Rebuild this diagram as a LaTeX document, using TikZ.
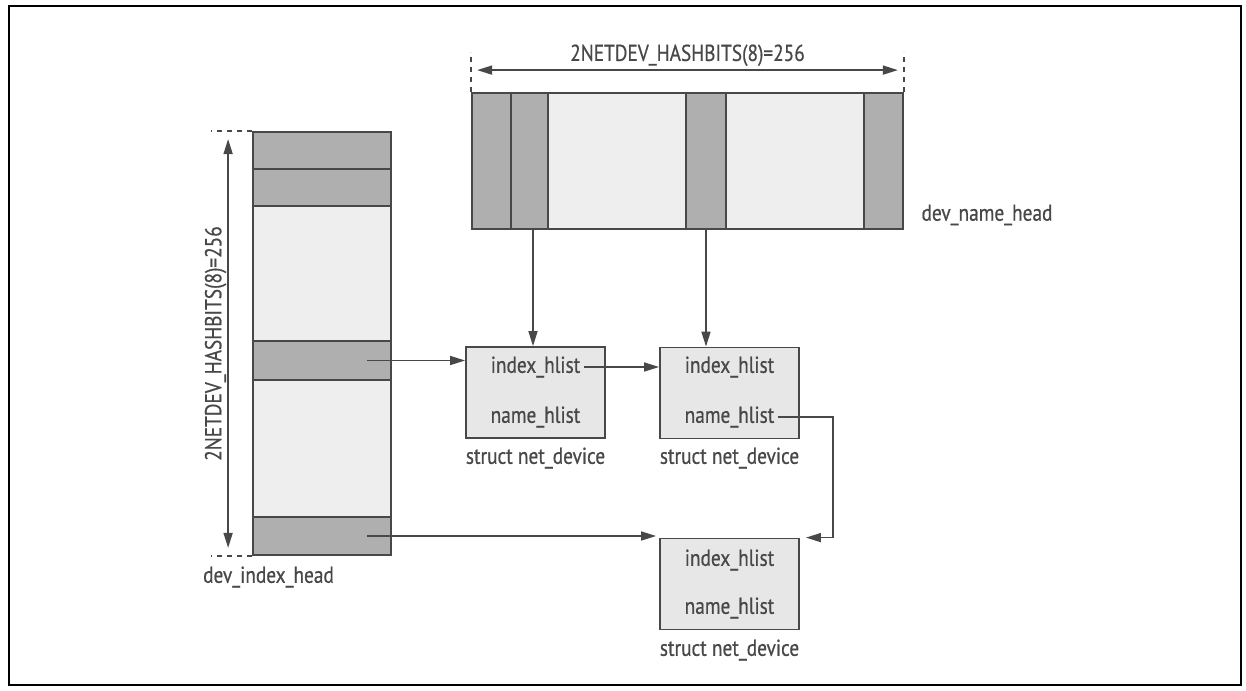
\documentclass[tikz,border=0pt]{standalone}
\usepackage{fontspec}
\newfontfamily\condfont[FakeStretch=0.84,FakeBold=0.6]{PT Sans}
\usetikzlibrary{arrows.meta,positioning}
\definecolor{inkgray}{RGB}{72,72,72}
\definecolor{slotdark}{RGB}{175,175,175}
\definecolor{slotlight}{RGB}{238,238,238}
\definecolor{devfill}{RGB}{231,231,231}

\begin{document}
\begin{tikzpicture}[x=1pt,y=-1pt,
	every node/.style={font=\condfont\fontsize{23}{27}\selectfont, text=inkgray},
	slot/.style={draw=inkgray, line width=1.8pt, fill=slotdark, inner sep=0pt},
	freeslot/.style={slot, fill=slotlight},
	devbox/.style={draw=inkgray, line width=1.8pt, fill=devfill, inner sep=0pt,
		minimum width=139pt, minimum height=91pt},
	link/.style={draw=inkgray, line width=1.6pt, -{Triangle[length=15pt,width=9pt]}},
	dimline/.style={draw=inkgray, line width=1.6pt,
		{Triangle[length=15pt,width=9pt]}-{Triangle[length=15pt,width=9pt]}},
	tick/.style={draw=inkgray, line width=1.4pt, dash pattern=on 5pt off 5pt}]

	\useasboundingbox (0,0) rectangle (1246,690);
	\draw[line width=2pt] (9,6) rectangle (1241,685);

	% dev_name_head
	\node[slot, minimum width=39pt, minimum height=136pt] (nh1) at (491.5,161) {};
	\node[slot, minimum width=37pt, minimum height=136pt] (nh2) at (529.5,161) {};
	\node[freeslot, minimum width=138pt, minimum height=136pt] (nh3) at (617,161) {};
	\node[slot, minimum width=40pt, minimum height=136pt] (nh4) at (706,161) {};
	\node[freeslot, minimum width=138pt, minimum height=136pt] (nh5) at (795,161) {};
	\node[slot, minimum width=39pt, minimum height=136pt] (nh6) at (883.5,161) {};
	\node (namehead) at (987,215) {dev\_name\_head};

	\draw[tick] (nh1.north west) -- ++(0,-40);
	\draw[tick] (nh6.north east) -- ++(0,-40);
	\draw[dimline] ([shift={(6,-22)}]nh1.north west) --
		node[above=0pt] (namedim) {2NETDEV\_HASHBITS(8)=256}
		([shift={(-6,-22)}]nh6.north east);

	% dev_index_head
	\node[slot, minimum width=138pt, minimum height=37pt] (ih1) at (322,150.5) {};
	\node[slot, minimum width=138pt, minimum height=37pt] (ih2) at (322,187.5) {};
	\node[freeslot, minimum width=138pt, minimum height=135pt] (ih3) at (322,273.5) {};
	\node[slot, minimum width=138pt, minimum height=39pt] (ih4) at (322,360.5) {};
	\node[freeslot, minimum width=138pt, minimum height=137pt] (ih5) at (322,448.5) {};
	\node[slot, minimum width=138pt, minimum height=38pt] (ih6) at (322,536) {};
	\node (indexhead) at (268.5,577) {dev\_index\_head};

	\draw[tick] (ih1.north west) -- ++(-41,0);
	\draw[tick] (ih6.south west) -- ++(-41,0);
	\draw[dimline] ([shift={(-24,8)}]ih1.north west) --
		node[midway, rotate=90, anchor=south, inner sep=1pt] (indexdim) {2NETDEV\_HASHBITS(8)=256}
		([shift={(-24,-8)}]ih6.south west);

	% struct net_device
	\node[devbox] (dev1) at (535.5,392.5) {};
	\node (idx1) at (535.5,367) {index\_hlist};
	\node (nam1) at (535.5,417) {name\_hlist};
	\node (cap1) at (535.5,458) {struct net\_device};

	\node[devbox] (dev2) at (729.5,393) {};
	\node (idx2) at (729.5,367) {index\_hlist};
	\node (nam2) at (729.5,417) {name\_hlist};
	\node (cap2) at (729.5,458) {struct net\_device};

	\node[devbox] (dev3) at (729.5,584) {};
	\node (idx3) at (729.5,560) {index\_hlist};
	\node (nam3) at (729.5,608) {name\_hlist};
	\node (cap3) at (729.5,650) {struct net\_device};

	% links
	\draw[link] ([xshift=3.5pt]nh2.south) -- ([xshift=3.5pt]nh2.south |- dev1.north);
	\draw[link] (nh4.south) -- (nh4.south |- dev2.north);
	\draw[link] ([xshift=45pt]ih4.center) -- (ih4.center -| dev1.west);
	\draw[link] (idx1.east) -- (idx1.east -| dev2.west);
	\draw[link] (nam2.east) -- ++(55,0) |- ([xshift=6pt]dev3.north east);
	\draw[link] ([xshift=45pt]ih6.center) -- ([xshift=-3pt]ih6.center -| dev3.west);

\end{tikzpicture}
\end{document}
